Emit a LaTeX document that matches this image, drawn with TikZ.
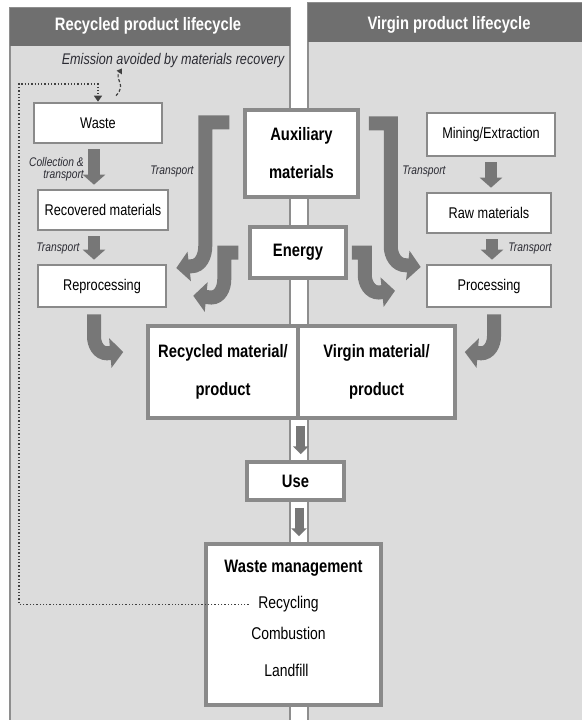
\documentclass[tikz,border=0pt]{standalone}
\usepackage{fontspec}
\setmainfont{Liberation Sans}[FakeStretch=0.82]
\usetikzlibrary{arrows.meta}
\definecolor{panelFill}{HTML}{DCDCDC}
\definecolor{panelLine}{HTML}{8E8E8E}
\definecolor{headFill}{HTML}{6F6F6F}
\definecolor{flowArrow}{HTML}{777777}
\definecolor{boxLine}{HTML}{8A8A8A}
\definecolor{noteText}{HTML}{2B2B33}

\begin{document}
\begin{tikzpicture}[
  x=1pt, y=-1pt,
  panel/.style={fill=panelFill, draw=panelLine, line width=1.2pt},
  header/.style={fill=headFill},
  headtext/.style={text=white, font=\fontsize{18}{20}\selectfont\bfseries},
  box/.style={draw=boxLine, fill=white, line width=2.6pt, inner sep=0pt,
    font=\fontsize{15.5}{18}\selectfont},
  bigbox/.style={box, line width=3.5pt, align=center,
    font=\fontsize{18}{38}\selectfont\bfseries},
  note/.style={text=noteText, font=\fontsize{12.5}{12}\selectfont\itshape,
    inner sep=0pt},
  bigarrow/.style={draw=flowArrow, line width=14pt,
    -{Triangle[width=29pt,length=13pt]}},
  downarrow/.style={draw=flowArrow, line width=12pt,
    -{Triangle[width=22pt,length=10pt]}, shorten <=5pt, shorten >=4pt},
  midarrow/.style={draw=flowArrow, line width=9pt,
    -{Triangle[width=15pt,length=8pt]}, shorten <=6pt, shorten >=6pt},
  recline/.style={draw=black!75, line width=1.3pt, dotted,
    -{Triangle[width=8pt,length=6pt]}}
]
\fill[white] (0,0) rectangle (581,720);
\useasboundingbox (0,0) rectangle (581,720);

% two lifecycle panels
\path[panel] (10,8) rectangle (290,730);
\path[header] (10,8) rectangle (290,46);
\node[headtext] (recychead) at (148,26) {Recycled product lifecycle};
\path[panel] (308,3) rectangle (595,730);
\path[header] (308,3) rectangle (595,42);
\node[headtext] (virghead) at (449,25) {Virgin product lifecycle};

% recycled side
\node[box, minimum width=128pt, minimum height=40pt] (waste) at (98,123) {Waste};
\node[box, minimum width=130pt, minimum height=40pt] (recovered) at (103,210) {Recovered materials};
\node[box, minimum width=128pt, minimum height=42pt] (reproc) at (102,286) {Reprocessing};

% virgin side
\node[box, minimum width=128pt, minimum height=43pt] (mining) at (491,134.5) {Mining/Extraction};
\node[box, minimum width=124pt, minimum height=40pt] (raw) at (489,213) {Raw materials};
\node[box, minimum width=124pt, minimum height=42pt] (proc) at (489,286) {Processing};

% shared middle
\node[bigbox, minimum width=113pt, minimum height=87pt] (aux) at (301.5,153.5) {Auxiliary\\materials};
\node[bigbox, minimum width=96pt, minimum height=51pt] (energy) at (298,252.5) {Energy};
\node[bigbox, minimum width=150pt, minimum height=92pt] (recyc) at (223,372) {Recycled material/\\product};
\node[bigbox, minimum width=157pt, minimum height=92pt] (virgin) at (376.5,372) {Virgin material/\\product};
\node[bigbox, minimum width=97pt, minimum height=38pt] (use) at (295.5,481) {Use};
\node[bigbox, minimum width=175pt, minimum height=161pt] (wastemgmt) at (293.5,624.5) {};
\node[font=\fontsize{18}{20}\selectfont\bfseries] (wmtitle) at ([yshift=-26pt]wastemgmt.north) {Waste management};
\node[font=\fontsize{17}{20}\selectfont] (recycling) at ([xshift=-5pt,yshift=-62pt]wastemgmt.north) {Recycling};
\node[font=\fontsize{17}{20}\selectfont] (combustion) at ([xshift=-5pt,yshift=-91pt]wastemgmt.north) {Combustion};
\node[font=\fontsize{17}{20}\selectfont] (landfill) at ([xshift=-7pt,yshift=-128pt]wastemgmt.north) {Landfill};

% straight flows
\draw[downarrow] ([xshift=-4pt]waste.south) -- ([xshift=-4pt]waste.south |- recovered.north);
\draw[downarrow] ([xshift=-9pt]recovered.south) -- ([xshift=-9pt]recovered.south |- reproc.north);
\draw[downarrow] (mining.south) -- (mining.south |- raw.north);
\draw[downarrow] ([xshift=3pt]raw.south) -- ([xshift=3pt]raw.south |- proc.north);
\draw[midarrow] ([xshift=1pt]recyc.south east) -- ([xshift=1pt]recyc.south east |- use.north);
\draw[midarrow] ([xshift=3.5pt]use.south) -- ([xshift=3.5pt]use.south |- wastemgmt.north);

% bent flows
\draw[bigarrow] ([xshift=-14pt,yshift=-14pt]aux.north west) -- ++(-24,0) -- ++(0,124)
  to[out=-90,in=0] ++(-14,20) -- ([xshift=9pt,yshift=18pt]reproc.east);
\draw[bigarrow] ([xshift=-10pt]energy.west) -- ++(-14,0) -- ++(0,27)
  to[out=-90,in=0] ++(-13,18) -- ([xshift=47pt,yshift=28.5pt]recyc.north west);
\draw[bigarrow] ([xshift=9pt,yshift=-15pt]aux.north east) -- ++(22,0) -- ++(0,123)
  to[out=-90,in=180] ++(15,19) -- ([xshift=-5pt,yshift=19pt]proc.west);
\draw[bigarrow] ([xshift=4pt]energy.east) -- ++(13,0) -- ++(0,22)
  to[out=-90,in=180] ++(14,18) -- ([xshift=18.5pt,yshift=33.5pt]virgin.north);
\draw[bigarrow] ([xshift=-8pt,yshift=-6pt]reproc.south) -- ++(0,22)
  to[out=-90,in=180] ++(13,17) -- ([xshift=-23pt,yshift=20pt]recyc.west);
\draw[bigarrow] ([xshift=5pt,yshift=-6pt]proc.south) -- ++(0,22)
  to[out=-90,in=0] ++(-13,17) -- ([xshift=8pt,yshift=20pt]virgin.east);

% flow labels
\node[note, align=right, anchor=east] (collect) at (84,169) {Collection \&\\transport};
\node[note] (trrecov) at (58,248) {Transport};
\node[note] (trauxl) at (172,171) {Transport};
\node[note] (trauxr) at (424,171) {Transport};
\node[note] (trraw) at (530,248) {Transport};

% recovery loop
\node[note, font=\fontsize{15.4}{18}\selectfont\itshape] (emission) at (173,61) {Emission avoided by materials recovery};
\coordinate (loopturn) at (19,84);
\draw[recline] ([xshift=-6pt]recycling.west) -| (loopturn) -| (waste.north);
\draw[draw=black!75, line width=1.2pt, dash pattern=on 3pt off 2pt,
  -{Triangle[width=6pt,length=5pt]}]
  ([xshift=18pt,yshift=6pt]waste.north) .. controls (127,84) and (114,80) .. ([xshift=-51pt]emission.south);
\end{tikzpicture}
\end{document}
